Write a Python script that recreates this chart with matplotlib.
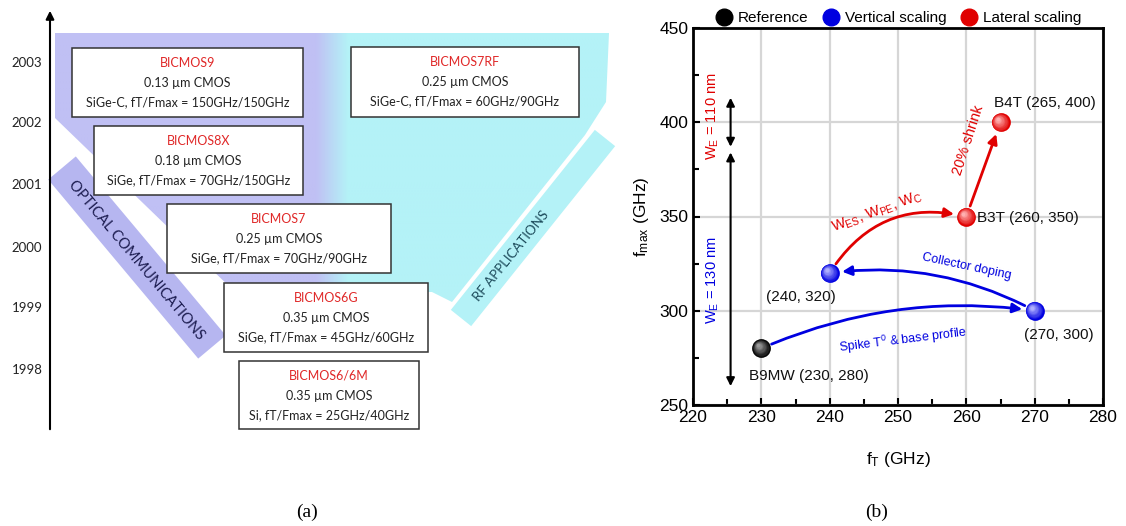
import numpy as np
import matplotlib
matplotlib.use("Agg")
import matplotlib.pyplot as plt
from matplotlib.patches import Polygon, Rectangle
from matplotlib.lines import Line2D
from matplotlib.transforms import offset_copy
from matplotlib.colors import to_rgb

plt.rcParams['font.family'] = ['Liberation Sans', 'DejaVu Sans']
plt.rcParams['mathtext.fontset'] = 'custom'
plt.rcParams['mathtext.rm'] = 'Liberation Sans'
plt.rcParams['mathtext.it'] = 'Liberation Sans:italic'

# ---- panel (a) data: process roadmap ----
years = [2003, 2002, 2001, 2000, 1999, 1998]
processes = ['BICMOS9', 'BICMOS8X', 'BICMOS7', 'BICMOS6G', 'BICMOS6/6M', 'BICMOS7RF']
cmos_nodes = ['0.13 µm CMOS', '0.18 µm CMOS', '0.25 µm CMOS',
              '0.35 µm CMOS', '0.35 µm CMOS', '0.25 µm CMOS']
specs = ['SiGe-C, fT/Fmax = 150GHz/150GHz', 'SiGe, fT/Fmax = 70GHz/150GHz',
         'SiGe, fT/Fmax = 70GHz/90GHz', 'SiGe, fT/Fmax = 45GHz/60GHz',
         'Si, fT/Fmax = 25GHz/40GHz', 'SiGe-C, fT/Fmax = 60GHz/90GHz']
markets = ['OPTICAL COMMUNICATIONS', 'RF APPLICATIONS']

# ---- panel (b) data: fT / fmax of the HBT generations ----
ft = [230, 240, 270, 260, 265]
fmax = [280, 320, 300, 350, 400]
groups = ['Reference', 'Vertical scaling', 'Vertical scaling', 'Lateral scaling', 'Lateral scaling']
point_labels = ['B9MW (230, 280)', '(240, 320)', '(270, 300)', 'B3T (260, 350)', 'B4T (265, 400)']
steps = [(0, 2, 'Spike T$^\\mathrm{0}$ & base profile'), (2, 1, 'Collector doping'),
         (1, 3, 'W$_\\mathrm{ES}$, W$_\\mathrm{PE}$, W$_\\mathrm{C}$'), (3, 4, '20% shrink')]
we_ranges = [(387, 413, 'W$_\\mathrm{E}$ = 110 nm'), (260, 384, 'W$_\\mathrm{E}$ = 130 nm')]

group_colors = {'Reference': ('#000000', '#9a9a9a'),
                'Vertical scaling': ('#0000e0', '#b0b0ff'),
                'Lateral scaling': ('#e00000', '#ffb0b0')}

fig = plt.figure(figsize=(11.26, 5.26), dpi=100)

# ================= panel (a) drawn in pixel coordinates =================
axa = fig.add_axes([0, 0, 1, 1])
axa.set_xlim(0, 1126)
axa.set_ylim(526, 0)
axa.axis('off')

lav = np.array(to_rgb('#c0c0f4'))
cya = np.array(to_rgb('#b4f2f7'))
xs = np.linspace(0, 1, 400)
mix = np.clip((xs * 600 + 40 - 316) / 32, 0, 1)
grad = lav[None, :] * (1 - mix[:, None]) + cya[None, :] * mix[:, None]
img = axa.imshow(grad[None, :, :], extent=(40, 640, 340, 30), aspect='auto', zorder=0)
region = Polygon([(55, 33), (609, 33), (606, 102), (585, 135), (452, 302), (432, 292),
                  (235, 292), (55, 118)], closed=True, transform=axa.transData)
img.set_clip_path(region)


def band(c0, c1, hw, color):
    c0, c1 = np.array(c0, float), np.array(c1, float)
    d = (c1 - c0) / np.linalg.norm(c1 - c0)
    n = np.array([d[1], -d[0]])
    axa.add_patch(Polygon([c0 + hw * n, c1 + hw * n, c1 - hw * n, c0 - hw * n],
                          closed=True, color=color, lw=0, zorder=0.5))


band((62, 168), (212, 347), 18, '#b6b6f0')
band((605, 138), (461, 318), 13, '#b4f2f7')
axa.text(136, 260, markets[0], rotation=-50, ha='center', va='center',
         fontsize=10.5, color='#1c1c50', family=['Lato', 'DejaVu Sans'])
axa.text(511, 256, markets[1], rotation=51, ha='center', va='center',
         fontsize=9.5, color='#1c4a5a', family=['Lato', 'DejaVu Sans'])

# time arrow and years
axa.annotate('', xy=(50, 8), xytext=(50, 432),
             arrowprops=dict(arrowstyle='-|>', color='black', lw=1.5, mutation_scale=12))
year_y = [63, 123, 185, 248, 308, 370]
for yr, yy in zip(years, year_y):
    axa.text(27, yy, str(yr), ha='center', va='center', fontsize=9.5,
             family=['Lato', 'DejaVu Sans'], color='#222222')

boxes = [(72, 48, 303, 117), (94, 126, 303, 195), (167, 204, 391, 273),
         (224, 283, 428, 352), (239, 361, 419, 429), (351, 47, 579, 117)]
for (x0, y0, x1, y1), name, node, spec in zip(boxes, processes, cmos_nodes, specs):
    axa.add_patch(Rectangle((x0, y0), x1 - x0, y1 - y0, facecolor='white',
                            edgecolor='#333333', lw=1.1, zorder=2))
    xc = (x0 + x1) / 2
    axa.text(xc, y0 + 15, name, ha='center', va='center', fontsize=9,
             color='#e02828', family=['Lato', 'DejaVu Sans'], zorder=3)
    axa.text(xc, y0 + 35, node, ha='center', va='center', fontsize=9,
             color='#222222', family=['Lato', 'DejaVu Sans'], zorder=3)
    axa.text(xc, y0 + 54, spec, ha='center', va='center', fontsize=9,
             color='#222222', family=['Lato', 'DejaVu Sans'], zorder=3)

axa.text(307, 512, '(a)', ha='center', va='center', fontsize=14,
         family=['Liberation Serif', 'DejaVu Serif'])
axa.text(877, 512, '(b)', ha='center', va='center', fontsize=14,
         family=['Liberation Serif', 'DejaVu Serif'])

# ================= panel (b) =================
ax = fig.add_axes([693 / 1126, 1 - 405 / 526, 410 / 1126, 377 / 526])
ax.set_xlim(220, 280)
ax.set_ylim(250, 450)
ax.set_xticks(np.arange(220, 281, 10))
ax.set_yticks(np.arange(250, 451, 50))
ax.set_xticks(np.arange(225, 280, 10), minor=True)
ax.set_yticks(np.arange(275, 450, 50), minor=True)
ax.grid(True, which='major', color='#d6d6d6', lw=1.6)
ax.set_axisbelow(True)
ax.tick_params(which='both', direction='in', width=1.5, labelsize=12.5, top=False, right=False)
ax.tick_params(which='major', length=5)
ax.tick_params(which='minor', length=4)
for s in ax.spines.values():
    s.set_linewidth(2)
ax.set_xlabel('$\\mathrm{f_T}$ (GHz)', fontsize=12.5, labelpad=18)
ax.set_ylabel('$\\mathrm{f_{max}}$ (GHz)', fontsize=12.5, labelpad=6)


def sphere(x, y, base, light, size=13.5):
    b = np.array(to_rgb(base))
    l = np.array(to_rgb(light))
    for i, k in enumerate(np.linspace(0, 1, 10)):
        tr = offset_copy(ax.transData, fig=fig, x=-size * 0.16 * k, y=size * 0.16 * k, units='points')
        ax.plot(x, y, 'o', ms=size * (1 - 0.8 * k), color=b * (1 - k) + l * k,
                mec='none', transform=tr, zorder=6 + i * 0.01, clip_on=False)


for x, y, g in zip(ft, fmax, groups):
    sphere(x, y, *group_colors[g])

# labels next to points
label_pos = [(237.0, 265.4, 'center'), (235.8, 307.3, 'center'), (273.6, 287.0, 'center'),
             (261.6, 349.2, 'left'), (271.5, 410.2, 'center')]
for (lx, ly, ha), txt in zip(label_pos, point_labels):
    ax.text(lx, ly, txt, ha=ha, va='center', fontsize=11, color='#111111', zorder=7)

# scaling arrows
rads = [-0.14, 0.16, -0.35, 0.0]
arrow_cols = ['#0000e0', '#0000e0', '#e00000', '#e00000']
for (i, j, _), r, c in zip(steps, rads, arrow_cols):
    ax.annotate('', xy=(ft[j], fmax[j]), xytext=(ft[i], fmax[i]),
                arrowprops=dict(arrowstyle='-|>', color=c, lw=2, mutation_scale=14,
                                shrinkA=8, shrinkB=9,
                                connectionstyle='arc3,rad=%s' % r), zorder=5)

step_text = [(250.7, 284.5, 7, 9), (260.1, 323.2, -12, 9), (246.9, 352.4, 20, 10.5),
             (260.3, 390.6, 72, 10.5)]
for (tx, ty, rot, fs), (_, _, txt), c in zip(step_text, steps, arrow_cols):
    ax.text(tx, ty, txt, rotation=rot, ha='center', va='center', fontsize=fs,
            color=c, rotation_mode='anchor', zorder=7)

# emitter width arrows
we_cols = ['#e00000', '#0000e0']
for (y0, y1, txt), c in zip(we_ranges, we_cols):
    ax.annotate('', xy=(225.5, y0), xytext=(225.5, y1),
                arrowprops=dict(arrowstyle='<|-|>', color='black', lw=1.5,
                                mutation_scale=12, shrinkA=0, shrinkB=0))
    ax.text(222.9, (y0 + y1) / 2 + (3 if c == '#e00000' else -6), txt, rotation=90,
            ha='center', va='center', fontsize=10.5, color=c)

handles = [Line2D([], [], marker='o', ls='none', ms=12, color=group_colors[g][0], label=g)
           for g in ['Reference', 'Vertical scaling', 'Lateral scaling']]
ax.legend(handles=handles, loc='lower center', bbox_to_anchor=(0.5, 1.0), ncol=3,
          frameon=False, fontsize=11, handletextpad=0.3, columnspacing=0.9,
          borderaxespad=0.1, borderpad=0.1, handlelength=1.2)

fig.savefig('out.png', dpi=100)
